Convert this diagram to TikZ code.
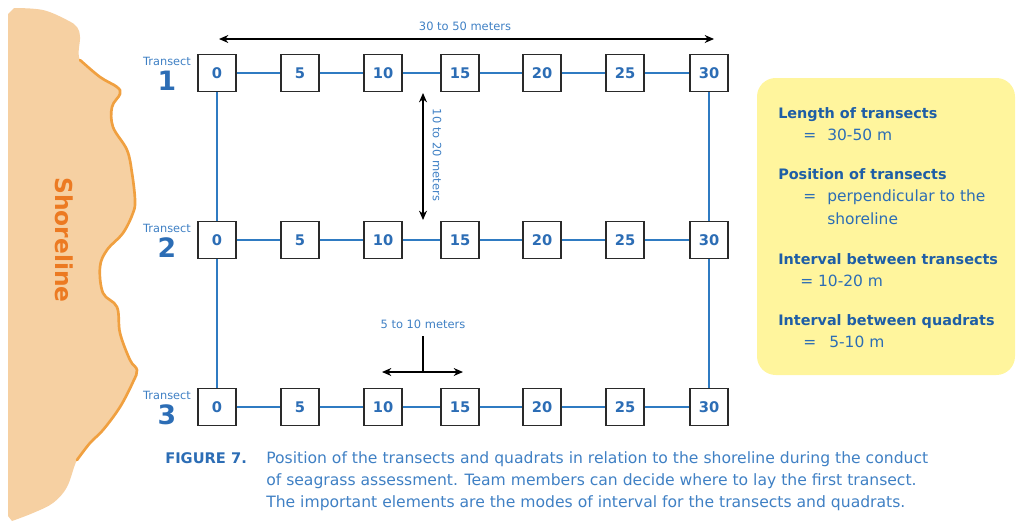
\documentclass[tikz,border=0pt]{standalone}
\usepackage{fontspec}
\setmainfont{DejaVu Sans}
\usetikzlibrary{arrows.meta}
\definecolor{tblue}{HTML}{2C6DB5}
\definecolor{lblue}{HTML}{3F80C4}
\definecolor{hblue}{HTML}{1E5EA6}
\definecolor{lineblue}{HTML}{2F7BC2}
\definecolor{sand}{HTML}{F6D0A2}
\definecolor{shoreedge}{HTML}{F0A040}
\definecolor{shoretext}{HTML}{EC7A22}
\definecolor{note}{HTML}{FFF59D}
\definecolor{boxline}{HTML}{2A2A2A}
\tikzset{
  qbox/.style={draw=boxline, line width=1pt, fill=white, minimum width=28.5pt, minimum height=27.75pt, inner sep=0pt, text=tblue, font=\fontsize{11}{13}\selectfont\bfseries},
  conn/.style={draw=lineblue, line width=0.9pt},
  dimarrow/.style={draw=black, line width=1pt, {Stealth[length=7pt,width=6pt]}-{Stealth[length=7pt,width=6pt]}},
  dimlabel/.style={text=lblue, font=\fontsize{8.6}{10}\selectfont, inner sep=0pt},
  tlabel/.style={text=lblue, font=\fontsize{8.5}{9}\selectfont, inner sep=0pt},
  tnum/.style={text=tblue, font=\fontsize{20}{22}\selectfont\bfseries, inner sep=0pt},
  notehead/.style={text=hblue, font=\fontsize{10.8}{13}\selectfont\bfseries, anchor=base west, inner sep=0pt},
  notetext/.style={text=tblue, font=\fontsize{11.6}{13}\selectfont, anchor=base west, inner sep=0pt},
  captext/.style={text=lblue, font=\fontsize{11.7}{13}\selectfont, anchor=base west, inner sep=0pt},
}
\begin{document}
\begin{tikzpicture}[x=0.75pt,y=-0.75pt]
\path[use as bounding box] (0,0) rectangle (1018,532);
% shoreline land
\fill[sand] plot[smooth, tension=0.6] coordinates {(14,8) (43,10) (67,20) (77,27) (80,37) (80,60) (100,77) (117,87) (120,94) (112,107) (113,127) (127,150) (132,173) (135,200) (133,213) (123,233) (107,250) (100,267) (103,293) (117,307) (120,333) (130,360) (137,370) (133,382) (120,407) (103,430) (90,443) (77,460) (67,487) (53,503) (33,513) (12,521)} -- (8,516) -- (8,14) -- cycle;
\draw[shoreedge, line width=2pt, line cap=round] plot[smooth, tension=0.6] coordinates {(80,60) (100,77) (117,87) (120,94) (112,107) (113,127) (127,150) (132,173) (135,200) (133,213) (123,233) (107,250) (100,267) (103,293) (117,307) (120,333) (130,360) (137,370) (133,382) (120,407) (103,430) (90,443) (77,460)};
\node[text=shoretext, rotate=-90, font=\fontsize{17.5}{20}\selectfont\bfseries, inner sep=0pt] (shore) at (64,240) {Shoreline};

% quadrat boxes
\foreach \r/\y in {1/73, 2/240, 3/407} {
  \foreach \c/\x/\lab in {0/217/0, 1/300/5, 2/383/10, 3/460/15, 4/542/20, 5/625/25, 6/709/30} {
    \node[qbox] (r\r c\c) at (\x,\y) {\lab};
  }
  \foreach \c [evaluate=\c as \n using int(\c+1)] in {0,...,5} {
    \draw[conn] (r\r c\c) -- (r\r c\n);
  }
  \node[tlabel] (tl\r) at (167,\y-12) {Transect};
  \node[tnum] (tn\r) at (167,\y+8) {\r};
}
\draw[conn] (r1c0) -- (r2c0);
\draw[conn] (r2c0) -- (r3c0);
\draw[conn] (r1c6) -- (r2c6);
\draw[conn] (r2c6) -- (r3c6);

% dimension arrows
\coordinate (topL) at (219,39);
\coordinate (topR) at (714,39);
\draw[dimarrow] (topL) -- (topR);
\node[dimlabel] (toplab) at (465,26) {30 to 50 meters};

\coordinate (vT) at (423,93);
\coordinate (vB) at (423,220);
\draw[dimarrow] (vT) -- (vB);
\node[dimlabel, rotate=-90] (vlab) at (437,155) {10 to 20 meters};

\coordinate (bT) at (423,336);
\coordinate (bM) at (423,372);
\coordinate (bL) at (382,372);
\coordinate (bR) at (463,372);
\draw[draw=black, line width=1pt] (bT) -- (bM);
\draw[dimarrow] (bL) -- (bR);
\node[dimlabel] (blab) at (423,324) {5 to 10 meters};

% note box
\fill[note, rounded corners=14pt] (757,78) rectangle (1015,375);
\node[notehead] (n1) at (778,118) {Length of transects};
\node[notetext] (n1e) at (803,140) {=};
\node[notetext] (n1v) at (827,140) {30-50 m};
\node[notehead] (n2) at (778,179) {Position of transects};
\node[notetext] (n2e) at (803,201) {=};
\node[notetext] (n2v) at (827,201) {perpendicular to the};
\node[notetext] (n2w) at (827,224) {shoreline};
\node[notehead] (n3) at (778,264) {Interval between transects};
\node[notetext] (n3v) at (800,286) {= 10-20 m};
\node[notehead] (n4) at (778,325) {Interval between quadrats};
\node[notetext] (n4e) at (803,347) {=};
\node[notetext] (n4v) at (829,347) {5-10 m};

% caption
\node[captext, text=tblue, font=\fontsize{11}{13}\selectfont\bfseries] (fig) at (165,463) {FIGURE 7.};
\node[captext] (c1) at (266,463) {Position of the transects and quadrats in relation to the shoreline during the conduct};
\node[captext] (c2) at (266,485) {of seagrass assessment. Team members can decide where to lay the first transect.};
\node[captext] (c3) at (266,507) {The important elements are the modes of interval for the transects and quadrats.};
\end{tikzpicture}
\end{document}
